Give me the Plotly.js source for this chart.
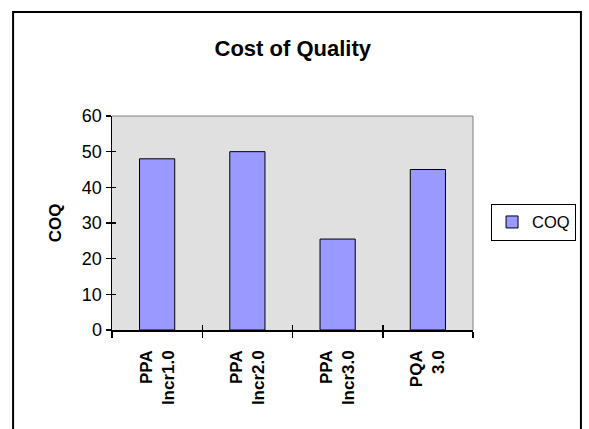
<!DOCTYPE html>
<html>
<head>
<meta charset="utf-8">
<script src="https://cdn.plot.ly/plotly-3.0.1.min.js"></script>
<style>html,body{margin:0;padding:0;background:#fff;}#chart{width:589px;height:429px;}</style>
</head>
<body>
<div id="chart"></div>
<script>
const categories = ["PPA<br>Incr1.0", "PPA<br>Incr2.0", "PPA<br>Incr3.0", "PQA<br>3.0"];
const coqValues = [48, 50, 25.5, 45];
const seriesName = "COQ";
const chartTitle = "Cost of Quality";
const yTitle = "COQ";

const font = "Arial, 'Liberation Sans', sans-serif";

const traces = [
  {
    type: "bar", x: categories, y: coqValues, name: seriesName,
    marker: {color: "#9999ff", line: {color: "#000", width: 1}},
    hoverinfo: "skip"
  },
  {
    type: "bar", x: categories, y: coqValues, xaxis: "x2", yaxis: "y2",
    showlegend: false, opacity: 0, hoverinfo: "skip"
  }
];

const layout = {
  width: 589, height: 429,
  margin: {l: 112, r: 116, t: 116, b: 99, autoexpand: false},
  paper_bgcolor: "#fff", plot_bgcolor: "#e0e0e0",
  bargap: 0.61,
  showlegend: true,
  title: {text: "<b>" + chartTitle + "</b>", font: {family: font, size: 22, color: "#000"},
          x: 0.497, xanchor: "center", y: 0.888, yanchor: "middle"},
  xaxis: {
    type: "category", tickson: "boundaries", ticks: "outside", ticklen: 6, tickwidth: 1.5,
    tickcolor: "#000", showline: true, linecolor: "#000", linewidth: 1.5,
    tickangle: -90, tickfont: {family: font, size: 17, color: "#000", weight: "bold"},
    ticklabelstandoff: 12,
    showgrid: false, zeroline: false, fixedrange: true, automargin: false
  },
  yaxis: {
    range: [0, 60], dtick: 10, ticks: "outside", ticklen: 5, tickwidth: 1.5, tickcolor: "#000",
    showline: true, linecolor: "#000", linewidth: 1.5, showgrid: false, zeroline: false,
    tickfont: {family: font, size: 18, color: "#000"},
    title: {text: "<b>" + yTitle + "</b>", font: {family: font, size: 17, color: "#000"}, standoff: 16},
    fixedrange: true, automargin: false
  },
  xaxis2: {
    type: "category", overlaying: "x", tickson: "boundaries", ticks: "inside", ticklen: 5,
    tickwidth: 1.5, tickcolor: "#000", showticklabels: false, showline: false, showgrid: false,
    zeroline: false, side: "bottom", matches: "x"
  },
  yaxis2: {
    range: [0, 60], dtick: 10, overlaying: "y", ticks: "inside", ticklen: 4, tickwidth: 1.5,
    tickcolor: "#000", showticklabels: false, showline: false, showgrid: false, zeroline: false,
    side: "left"
  },
  legend: {
    x: 1.05, xanchor: "left", y: 0.59, yanchor: "top",
    bordercolor: "#000", borderwidth: 1, bgcolor: "#fff",
    font: {family: font, size: 16.5, color: "#000"},
    itemwidth: 30, tracegroupgap: 0
  },
  shapes: [
    {type: "line", xref: "paper", yref: "paper", x0: 0, x1: 1, y0: 1, y1: 1, line: {color: "#808080", width: 1}},
    {type: "line", xref: "paper", yref: "paper", x0: 1, x1: 1, y0: 0, y1: 1, line: {color: "#808080", width: 1}},
    {type: "rect", xref: "paper", yref: "paper", x0: -0.274, x1: 1.299, y0: -0.6, y1: 1.486,
     line: {color: "#000", width: 2}, fillcolor: "rgba(0,0,0,0)"}
  ]
};

Plotly.newPlot("chart", traces, layout, {displayModeBar: false, staticPlot: true});
</script>
</body>
</html>
